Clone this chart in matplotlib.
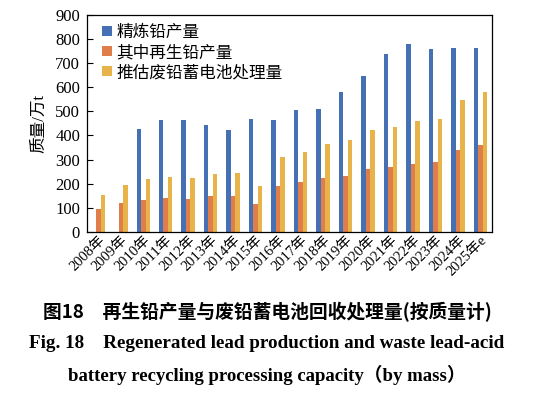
import numpy as np
import matplotlib.pyplot as plt

plt.rcParams['font.family'] = ['Liberation Serif', 'Noto Sans CJK SC']

years = ['2008年', '2009年', '2010年', '2011年', '2012年', '2013年', '2014年', '2015年', '2016年',
         '2017年', '2018年', '2019年', '2020年', '2021年', '2022年', '2023年', '2024年', '2025年e']
refined = [np.nan, np.nan, 426, 464, 464, 445, 422, 469, 464,
           506, 510, 579, 645, 737, 780, 757, 763, 761]
recycled = [95, 122, 135, 141, 137, 149, 150, 117, 191,
            206, 224, 234, 262, 270, 284, 289, 339, 361]
batteries = [152, 197, 219, 229, 225, 241, 244, 191, 310,
             332, 363, 382, 423, 435, 459, 469, 547, 580]
series_names = ['精炼铅产量', '其中再生铅产量', '推估废铅蓄电池处理量']
colors = ['#4670B4', '#DF7D4B', '#E8B44A']

fig = plt.figure(figsize=(5.34, 3.93), dpi=100)
ax = fig.add_axes([0.163, 0.409, 0.758, 0.554])

x = np.arange(len(years))
w = 0.2
for k, (vals, name, c) in enumerate(zip([refined, recycled, batteries], series_names, colors)):
    ax.bar(x + (k - 1) * w, vals, width=w, color=c, label=name)

ax.set_xlim(-0.5, len(years) - 0.5)
ax.set_ylim(0, 900)
ax.set_yticks(range(0, 901, 100))
ax.tick_params(axis='y', direction='in', length=4, width=0.8, labelsize=12, pad=5)
ax.tick_params(axis='x', length=0, labelsize=10.5, pad=1)
ax.set_xticks(x)
ax.set_xticklabels(years, rotation=45, ha='right', rotation_mode='anchor')
for s in ax.spines.values():
    s.set_linewidth(0.9)

ax.set_ylabel('质量/万t', fontsize=12, labelpad=6)

# legend sits close to the top-left corner, no frame
leg = ax.legend(loc='upper left', bbox_to_anchor=(0.038, 0.952), frameon=False, fontsize=12,
                handlelength=0.55, handleheight=0.55, handletextpad=0.3, labelspacing=0.24,
                borderpad=0, borderaxespad=0)

fig.text(0.5, 0.206, '图18　再生铅产量与废铅蓄电池回收处理量(按质量计)', ha='center', va='center',
         fontsize=13.5, fontweight='bold', family=['Noto Sans CJK SC'])
fig.text(0.5, 0.127, 'Fig. 18　Regenerated lead production and waste lead-acid', ha='center',
         va='center', fontsize=13.8, fontweight='bold', family=['Liberation Serif', 'Noto Sans CJK SC'])
fig.text(0.5, 0.046, 'battery recycling processing capacity（by mass）', ha='center',
         va='center', fontsize=13.5, fontweight='bold', family=['Liberation Serif', 'Noto Sans CJK SC'])

fig.savefig('out.png', dpi=100)
